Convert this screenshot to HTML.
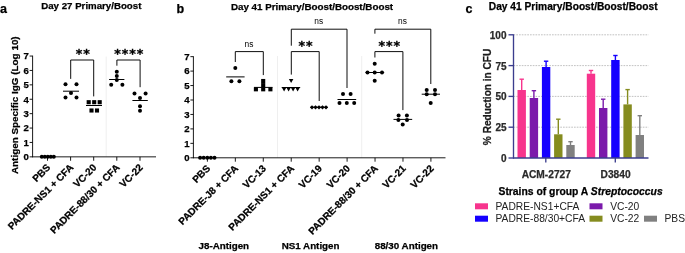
<!DOCTYPE html>
<html lang="en"><head><meta charset="utf-8"><title>Figure</title>
<style>
html,body{margin:0;padding:0;background:#fff;}
svg{display:block;font-family:"Liberation Sans", Arial, sans-serif;}
</style></head>
<body>
<svg width="685" height="253" viewBox="0 0 685 253" shape-rendering="auto">
<rect width="685" height="253" fill="#fff"/>
<text x="0.1" y="12.8" font-size="12.5" font-weight="bold" text-anchor="start" fill="#000"  stroke="#000" stroke-width="0.25">a</text>
<text x="91.3" y="9.4" font-size="9.7" font-weight="bold" text-anchor="middle" fill="#000"  stroke="#000" stroke-width="0.25">Day 27 Primary/Boost</text>
<line x1="106.2" y1="56.5" x2="106.2" y2="156.6" stroke="#ebebeb" stroke-width="0.8" />
<line x1="32.6" y1="55.65" x2="32.6" y2="157.25" stroke="#000" stroke-width="0.9" />
<line x1="32.2" y1="156.85" x2="156" y2="156.85" stroke="#000" stroke-width="0.9" />
<line x1="29.6" y1="156.85" x2="32.6" y2="156.85" stroke="#000" stroke-width="0.9" />
<text x="28.900000000000002" y="160.15" font-size="9.6" font-weight="bold" text-anchor="end" fill="#000"  stroke="#000" stroke-width="0.25">0</text>
<line x1="29.6" y1="142.45" x2="32.6" y2="142.45" stroke="#000" stroke-width="0.9" />
<text x="28.900000000000002" y="145.75" font-size="9.6" font-weight="bold" text-anchor="end" fill="#000"  stroke="#000" stroke-width="0.25">1</text>
<line x1="29.6" y1="128.05" x2="32.6" y2="128.05" stroke="#000" stroke-width="0.9" />
<text x="28.900000000000002" y="131.35000000000002" font-size="9.6" font-weight="bold" text-anchor="end" fill="#000"  stroke="#000" stroke-width="0.25">2</text>
<line x1="29.6" y1="113.65" x2="32.6" y2="113.65" stroke="#000" stroke-width="0.9" />
<text x="28.900000000000002" y="116.95" font-size="9.6" font-weight="bold" text-anchor="end" fill="#000"  stroke="#000" stroke-width="0.25">3</text>
<line x1="29.6" y1="99.25" x2="32.6" y2="99.25" stroke="#000" stroke-width="0.9" />
<text x="28.900000000000002" y="102.55" font-size="9.6" font-weight="bold" text-anchor="end" fill="#000"  stroke="#000" stroke-width="0.25">4</text>
<line x1="29.6" y1="84.85" x2="32.6" y2="84.85" stroke="#000" stroke-width="0.9" />
<text x="28.900000000000002" y="88.14999999999999" font-size="9.6" font-weight="bold" text-anchor="end" fill="#000"  stroke="#000" stroke-width="0.25">5</text>
<line x1="29.6" y1="70.45" x2="32.6" y2="70.45" stroke="#000" stroke-width="0.9" />
<text x="28.900000000000002" y="73.75" font-size="9.6" font-weight="bold" text-anchor="end" fill="#000"  stroke="#000" stroke-width="0.25">6</text>
<line x1="29.6" y1="56.05" x2="32.6" y2="56.05" stroke="#000" stroke-width="0.9" />
<text x="28.900000000000002" y="59.349999999999994" font-size="9.6" font-weight="bold" text-anchor="end" fill="#000"  stroke="#000" stroke-width="0.25">7</text>
<line x1="47.5" y1="156.85" x2="47.5" y2="160.75" stroke="#000" stroke-width="0.9" />
<text x="51.0" y="168.15" font-size="9.95" font-weight="bold" text-anchor="end" fill="#000" transform="rotate(-45 51.0 168.15)"  stroke="#000" stroke-width="0.25">PBS</text>
<line x1="70.6" y1="156.85" x2="70.6" y2="160.75" stroke="#000" stroke-width="0.9" />
<text x="74.1" y="168.15" font-size="9.95" font-weight="bold" text-anchor="end" fill="#000" transform="rotate(-45 74.1 168.15)"  stroke="#000" stroke-width="0.25">PADRE-NS1 + CFA</text>
<line x1="93.7" y1="156.85" x2="93.7" y2="160.75" stroke="#000" stroke-width="0.9" />
<text x="97.2" y="168.15" font-size="9.95" font-weight="bold" text-anchor="end" fill="#000" transform="rotate(-45 97.2 168.15)"  stroke="#000" stroke-width="0.25">VC-20</text>
<line x1="116.8" y1="156.85" x2="116.8" y2="160.75" stroke="#000" stroke-width="0.9" />
<text x="120.3" y="168.15" font-size="9.95" font-weight="bold" text-anchor="end" fill="#000" transform="rotate(-45 120.3 168.15)"  stroke="#000" stroke-width="0.25">PADRE-88/30 + CFA</text>
<line x1="140" y1="156.85" x2="140" y2="160.75" stroke="#000" stroke-width="0.9" />
<text x="143.5" y="168.15" font-size="9.95" font-weight="bold" text-anchor="end" fill="#000" transform="rotate(-45 143.5 168.15)"  stroke="#000" stroke-width="0.25">VC-22</text>
<text x="18.4" y="105.2" font-size="9.9" font-weight="bold" text-anchor="middle" fill="#000" transform="rotate(-90 18.4 105.2)"  stroke="#000" stroke-width="0.25">Antigen Specific IgG (Log 10)</text>
<circle cx="41.8" cy="156.85" r="2.0"/>
<circle cx="44.8" cy="156.85" r="2.0"/>
<circle cx="47.8" cy="156.85" r="2.0"/>
<circle cx="50.8" cy="156.85" r="2.0"/>
<circle cx="53.8" cy="156.85" r="2.0"/>
<circle cx="65.5" cy="84.2" r="2.0"/>
<circle cx="76.5" cy="84.2" r="2.0"/>
<circle cx="71" cy="93" r="2.0"/>
<circle cx="65.5" cy="97.5" r="2.0"/>
<circle cx="76.5" cy="97.5" r="2.0"/>
<line x1="63" y1="91.2" x2="79" y2="91.2" stroke="#000" stroke-width="1.0" />
<rect x="86.65" y="100.15" width="4.1" height="4.1"/>
<rect x="92.15" y="100.15" width="4.1" height="4.1"/>
<rect x="97.65" y="100.15" width="4.1" height="4.1"/>
<rect x="89.45" y="108.45" width="4.1" height="4.1"/>
<rect x="94.95" y="108.45" width="4.1" height="4.1"/>
<line x1="86" y1="105.5" x2="102" y2="105.5" stroke="#000" stroke-width="1.0" />
<circle cx="116.8" cy="71.8" r="2.0"/>
<circle cx="116.8" cy="75.9" r="2.0"/>
<circle cx="116.8" cy="80.1" r="2.0"/>
<circle cx="111.2" cy="84.8" r="2.0"/>
<circle cx="122.4" cy="84.8" r="2.0"/>
<line x1="109.1" y1="79.5" x2="124.4" y2="79.5" stroke="#000" stroke-width="1.0" />
<circle cx="134.5" cy="93.4" r="2.0"/>
<circle cx="145.6" cy="93.4" r="2.0"/>
<circle cx="140" cy="97.9" r="2.0"/>
<circle cx="140" cy="106.3" r="2.0"/>
<circle cx="140" cy="110.8" r="2.0"/>
<line x1="132.4" y1="100.5" x2="147.8" y2="100.5" stroke="#000" stroke-width="1.0" />
<polyline points="70.7,78.9 70.7,60.0 93.7,60.0 93.7,96.4" fill="none" stroke="#000" stroke-width="0.95"/>
<text x="83.2" y="57.8" font-size="12.6" font-weight="bold" letter-spacing="0.9" text-anchor="middle" stroke="#000" stroke-width="0.35" font-family="'DejaVu Sans', sans-serif">**</text>
<polyline points="116.9,65.7 116.9,60.0 140.1,60.0 140.1,87.2" fill="none" stroke="#000" stroke-width="0.95"/>
<text x="129.2" y="57.8" font-size="12.6" font-weight="bold" letter-spacing="0.9" text-anchor="middle" stroke="#000" stroke-width="0.35" font-family="'DejaVu Sans', sans-serif">****</text>
<text x="176.5" y="13.4" font-size="12.5" font-weight="bold" text-anchor="start" fill="#000"  stroke="#000" stroke-width="0.25">b</text>
<text x="312" y="9.5" font-size="9.8" font-weight="bold" text-anchor="middle" fill="#000"  stroke="#000" stroke-width="0.25">Day 41 Primary/Boost/Boost/Boost</text>
<line x1="277.5" y1="56" x2="277.5" y2="157.8" stroke="#ebebeb" stroke-width="0.8" />
<line x1="361.7" y1="56" x2="361.7" y2="157.8" stroke="#ebebeb" stroke-width="0.8" />
<line x1="193.4" y1="56.25" x2="193.4" y2="158.20000000000002" stroke="#000" stroke-width="0.9" />
<line x1="193.0" y1="157.8" x2="445.5" y2="157.8" stroke="#000" stroke-width="0.9" />
<line x1="190.4" y1="157.8" x2="193.4" y2="157.8" stroke="#000" stroke-width="0.9" />
<text x="189.70000000000002" y="161.10000000000002" font-size="9.6" font-weight="bold" text-anchor="end" fill="#000"  stroke="#000" stroke-width="0.25">0</text>
<line x1="190.4" y1="143.35" x2="193.4" y2="143.35" stroke="#000" stroke-width="0.9" />
<text x="189.70000000000002" y="146.65" font-size="9.6" font-weight="bold" text-anchor="end" fill="#000"  stroke="#000" stroke-width="0.25">1</text>
<line x1="190.4" y1="128.9" x2="193.4" y2="128.9" stroke="#000" stroke-width="0.9" />
<text x="189.70000000000002" y="132.20000000000002" font-size="9.6" font-weight="bold" text-anchor="end" fill="#000"  stroke="#000" stroke-width="0.25">2</text>
<line x1="190.4" y1="114.45" x2="193.4" y2="114.45" stroke="#000" stroke-width="0.9" />
<text x="189.70000000000002" y="117.75" font-size="9.6" font-weight="bold" text-anchor="end" fill="#000"  stroke="#000" stroke-width="0.25">3</text>
<line x1="190.4" y1="100.0" x2="193.4" y2="100.0" stroke="#000" stroke-width="0.9" />
<text x="189.70000000000002" y="103.3" font-size="9.6" font-weight="bold" text-anchor="end" fill="#000"  stroke="#000" stroke-width="0.25">4</text>
<line x1="190.4" y1="85.55" x2="193.4" y2="85.55" stroke="#000" stroke-width="0.9" />
<text x="189.70000000000002" y="88.85" font-size="9.6" font-weight="bold" text-anchor="end" fill="#000"  stroke="#000" stroke-width="0.25">5</text>
<line x1="190.4" y1="71.1" x2="193.4" y2="71.1" stroke="#000" stroke-width="0.9" />
<text x="189.70000000000002" y="74.39999999999999" font-size="9.6" font-weight="bold" text-anchor="end" fill="#000"  stroke="#000" stroke-width="0.25">6</text>
<line x1="190.4" y1="56.65" x2="193.4" y2="56.65" stroke="#000" stroke-width="0.9" />
<text x="189.70000000000002" y="59.949999999999996" font-size="9.6" font-weight="bold" text-anchor="end" fill="#000"  stroke="#000" stroke-width="0.25">7</text>
<line x1="207.4" y1="157.8" x2="207.4" y2="161.70000000000002" stroke="#000" stroke-width="0.9" />
<text x="210.9" y="169.10000000000002" font-size="9.95" font-weight="bold" text-anchor="end" fill="#000" transform="rotate(-45 210.9 169.10000000000002)"  stroke="#000" stroke-width="0.25">PBS</text>
<line x1="235.34" y1="157.8" x2="235.34" y2="161.70000000000002" stroke="#000" stroke-width="0.9" />
<text x="238.84" y="169.10000000000002" font-size="9.95" font-weight="bold" text-anchor="end" fill="#000" transform="rotate(-45 238.84 169.10000000000002)"  stroke="#000" stroke-width="0.25">PADRE-J8 + CFA</text>
<line x1="263.28" y1="157.8" x2="263.28" y2="161.70000000000002" stroke="#000" stroke-width="0.9" />
<text x="266.78" y="169.10000000000002" font-size="9.95" font-weight="bold" text-anchor="end" fill="#000" transform="rotate(-45 266.78 169.10000000000002)"  stroke="#000" stroke-width="0.25">VC-13</text>
<line x1="291.22" y1="157.8" x2="291.22" y2="161.70000000000002" stroke="#000" stroke-width="0.9" />
<text x="294.72" y="169.10000000000002" font-size="9.95" font-weight="bold" text-anchor="end" fill="#000" transform="rotate(-45 294.72 169.10000000000002)"  stroke="#000" stroke-width="0.25">PADRE-NS1 + CFA</text>
<line x1="319.16" y1="157.8" x2="319.16" y2="161.70000000000002" stroke="#000" stroke-width="0.9" />
<text x="322.66" y="169.10000000000002" font-size="9.95" font-weight="bold" text-anchor="end" fill="#000" transform="rotate(-45 322.66 169.10000000000002)"  stroke="#000" stroke-width="0.25">VC-19</text>
<line x1="347.1" y1="157.8" x2="347.1" y2="161.70000000000002" stroke="#000" stroke-width="0.9" />
<text x="350.6" y="169.10000000000002" font-size="9.95" font-weight="bold" text-anchor="end" fill="#000" transform="rotate(-45 350.6 169.10000000000002)"  stroke="#000" stroke-width="0.25">VC-20</text>
<line x1="375.04" y1="157.8" x2="375.04" y2="161.70000000000002" stroke="#000" stroke-width="0.9" />
<text x="378.54" y="169.10000000000002" font-size="9.95" font-weight="bold" text-anchor="end" fill="#000" transform="rotate(-45 378.54 169.10000000000002)"  stroke="#000" stroke-width="0.25">PADRE-88/30 + CFA</text>
<line x1="402.98" y1="157.8" x2="402.98" y2="161.70000000000002" stroke="#000" stroke-width="0.9" />
<text x="406.48" y="169.10000000000002" font-size="9.95" font-weight="bold" text-anchor="end" fill="#000" transform="rotate(-45 406.48 169.10000000000002)"  stroke="#000" stroke-width="0.25">VC-21</text>
<line x1="430.92" y1="157.8" x2="430.92" y2="161.70000000000002" stroke="#000" stroke-width="0.9" />
<text x="434.42" y="169.10000000000002" font-size="9.95" font-weight="bold" text-anchor="end" fill="#000" transform="rotate(-45 434.42 169.10000000000002)"  stroke="#000" stroke-width="0.25">VC-22</text>
<circle cx="200.10000000000002" cy="157.8" r="2.0"/>
<circle cx="203.70000000000002" cy="157.8" r="2.0"/>
<circle cx="207.3" cy="157.8" r="2.0"/>
<circle cx="210.9" cy="157.8" r="2.0"/>
<circle cx="214.5" cy="157.8" r="2.0"/>
<circle cx="235.3" cy="68.1" r="2.0"/>
<circle cx="231.4" cy="81.2" r="2.0"/>
<circle cx="239.4" cy="81.2" r="2.0"/>
<line x1="226.2" y1="76.9" x2="244.6" y2="76.9" stroke="#000" stroke-width="1.0" />
<rect x="261.15" y="78.95" width="4.1" height="4.1"/>
<rect x="261.15" y="83.05" width="4.1" height="4.1"/>
<rect x="253.85" y="87.25" width="4.1" height="4.1"/>
<rect x="261.15" y="87.25" width="4.1" height="4.1"/>
<rect x="268.34999999999997" y="87.25" width="4.1" height="4.1"/>
<line x1="254" y1="87.4" x2="272.5" y2="87.4" stroke="#000" stroke-width="1.0" />
<polygon points="288.85,79.0 293.35,79.0 291.1,83.0"/>
<polygon points="281.85,87.4 286.35,87.4 284.1,91.4"/>
<polygon points="286.35,87.4 290.85,87.4 288.6,91.4"/>
<polygon points="290.85,87.4 295.35,87.4 293.1,91.4"/>
<polygon points="295.35,87.4 299.85,87.4 297.6,91.4"/>
<line x1="281.7" y1="87.5" x2="300.2" y2="87.5" stroke="#000" stroke-width="1.0" />
<polygon points="309.85,107.3 312.0,105.14999999999999 314.15,107.3 312.0,109.45"/>
<polygon points="313.35,107.3 315.5,105.14999999999999 317.65,107.3 315.5,109.45"/>
<polygon points="316.85,107.3 319.0,105.14999999999999 321.15,107.3 319.0,109.45"/>
<polygon points="320.35,107.3 322.5,105.14999999999999 324.65,107.3 322.5,109.45"/>
<polygon points="323.85,107.3 326.0,105.14999999999999 328.15,107.3 326.0,109.45"/>
<line x1="310.5" y1="107.3" x2="327.7" y2="107.3" stroke="#000" stroke-width="1.0" />
<circle cx="343" cy="94.1" r="2.0"/>
<circle cx="350.6" cy="94.1" r="2.0"/>
<circle cx="339.5" cy="102.9" r="2.0"/>
<circle cx="346.8" cy="102.9" r="2.0"/>
<circle cx="354.2" cy="102.9" r="2.0"/>
<line x1="337.5" y1="99.5" x2="356.2" y2="99.5" stroke="#000" stroke-width="1.0" />
<circle cx="374.7" cy="63.7" r="2.0"/>
<circle cx="367.5" cy="72.5" r="2.0"/>
<circle cx="374.7" cy="72.5" r="2.0"/>
<circle cx="382" cy="72.5" r="2.0"/>
<circle cx="374.7" cy="80.7" r="2.0"/>
<line x1="365.5" y1="72.5" x2="384.2" y2="72.5" stroke="#000" stroke-width="1.0" />
<circle cx="398.6" cy="115.6" r="2.0"/>
<circle cx="406.9" cy="115.6" r="2.0"/>
<circle cx="398.4" cy="120.1" r="2.0"/>
<circle cx="407.0" cy="120.1" r="2.0"/>
<circle cx="402.7" cy="124.5" r="2.0"/>
<line x1="393.5" y1="119.4" x2="412.2" y2="119.4" stroke="#000" stroke-width="1.0" />
<circle cx="426.7" cy="90.0" r="2.0"/>
<circle cx="435" cy="90.0" r="2.0"/>
<circle cx="426.7" cy="94.2" r="2.0"/>
<circle cx="435" cy="94.2" r="2.0"/>
<circle cx="430.7" cy="103.0" r="2.0"/>
<line x1="421.7" y1="94.2" x2="440" y2="94.2" stroke="#000" stroke-width="1.0" />
<polyline points="235.3,62.0 235.3,51.6 263.3,51.6 263.3,75.1" fill="none" stroke="#000" stroke-width="0.95"/>
<text x="249" y="47" font-size="8.4" font-weight="normal" text-anchor="middle" fill="#000" >ns</text>
<polyline points="291.3,74.6 291.3,51.6 319.2,51.6 319.2,101" fill="none" stroke="#000" stroke-width="0.95"/>
<text x="306.0" y="50.3" font-size="12.6" font-weight="bold" letter-spacing="0.9" text-anchor="middle" stroke="#000" stroke-width="0.35" font-family="'DejaVu Sans', sans-serif">**</text>
<polyline points="291.3,45.7 291.3,29.2 347.0,29.2 347.0,88.0" fill="none" stroke="#000" stroke-width="0.95"/>
<text x="318.7" y="24" font-size="8.4" font-weight="normal" text-anchor="middle" fill="#000" >ns</text>
<polyline points="374.9,57.5 374.9,51.6 402.9,51.6 402.9,110.1" fill="none" stroke="#000" stroke-width="0.95"/>
<text x="389.7" y="50.3" font-size="12.6" font-weight="bold" letter-spacing="0.9" text-anchor="middle" stroke="#000" stroke-width="0.35" font-family="'DejaVu Sans', sans-serif">***</text>
<polyline points="374.9,33.7 374.9,29.2 430.8,29.2 430.8,84" fill="none" stroke="#000" stroke-width="0.95"/>
<text x="402.5" y="24" font-size="8.4" font-weight="normal" text-anchor="middle" fill="#000" >ns</text>
<text x="223.8" y="248.9" font-size="9.8" font-weight="bold" text-anchor="middle" fill="#000"  stroke="#000" stroke-width="0.25">J8-Antigen</text>
<text x="310.6" y="248.9" font-size="9.8" font-weight="bold" text-anchor="middle" fill="#000"  stroke="#000" stroke-width="0.25">NS1 Antigen</text>
<text x="406.4" y="248.9" font-size="9.8" font-weight="bold" text-anchor="middle" fill="#000"  stroke="#000" stroke-width="0.25">88/30 Antigen</text>
<text x="465.5" y="12.6" font-size="12.5" font-weight="bold" text-anchor="start" fill="#000"  stroke="#000" stroke-width="0.25">c</text>
<text x="573.2" y="9.5" font-size="10.2" font-weight="bold" text-anchor="middle" fill="#000"  stroke="#000" stroke-width="0.25">Day 41 Primary/Boost/Boost/Boost</text>
<line x1="513.5" y1="127.2" x2="648.5" y2="127.2" stroke="#a8a8a8" stroke-width="0.7" stroke-dasharray="1.7 1.05"/>
<line x1="513.5" y1="96.4" x2="648.5" y2="96.4" stroke="#a8a8a8" stroke-width="0.7" stroke-dasharray="1.7 1.05"/>
<line x1="513.5" y1="65.6" x2="648.5" y2="65.6" stroke="#a8a8a8" stroke-width="0.7" stroke-dasharray="1.7 1.05"/>
<line x1="513.5" y1="34.8" x2="648.5" y2="34.8" stroke="#a8a8a8" stroke-width="0.7" stroke-dasharray="1.7 1.05"/>
<rect x="517.5" y="90" width="8.4" height="68" fill="#f7348d"/>
<line x1="521.7" y1="90" x2="521.7" y2="79.2" stroke="#f7348d" stroke-width="1.4" />
<line x1="519.5" y1="79.2" x2="523.9000000000001" y2="79.2" stroke="#f7348d" stroke-width="1.4" />
<rect x="529.7" y="98" width="8.4" height="60" fill="#7b1aab"/>
<line x1="533.9000000000001" y1="98" x2="533.9000000000001" y2="90.7" stroke="#7b1aab" stroke-width="1.4" />
<line x1="531.7" y1="90.7" x2="536.1000000000001" y2="90.7" stroke="#7b1aab" stroke-width="1.4" />
<rect x="541.9" y="67" width="8.4" height="91" fill="#1500ff"/>
<line x1="546.1" y1="67" x2="546.1" y2="61.2" stroke="#1500ff" stroke-width="1.4" />
<line x1="543.9" y1="61.2" x2="548.3000000000001" y2="61.2" stroke="#1500ff" stroke-width="1.4" />
<rect x="554.1" y="134.3" width="8.4" height="23.7" fill="#858c1f"/>
<line x1="558.3000000000001" y1="134.3" x2="558.3000000000001" y2="119.2" stroke="#858c1f" stroke-width="1.4" />
<line x1="556.1" y1="119.2" x2="560.5000000000001" y2="119.2" stroke="#858c1f" stroke-width="1.4" />
<rect x="566.3" y="145" width="8.4" height="13" fill="#808080"/>
<line x1="570.5" y1="145" x2="570.5" y2="141.7" stroke="#808080" stroke-width="1.4" />
<line x1="568.3" y1="141.7" x2="572.7" y2="141.7" stroke="#808080" stroke-width="1.4" />
<rect x="586.8" y="73.7" width="8.4" height="84.3" fill="#f7348d"/>
<line x1="591.0" y1="73.7" x2="591.0" y2="70.5" stroke="#f7348d" stroke-width="1.4" />
<line x1="588.8" y1="70.5" x2="593.2" y2="70.5" stroke="#f7348d" stroke-width="1.4" />
<rect x="599.0" y="108" width="8.4" height="50" fill="#7b1aab"/>
<line x1="603.2" y1="108" x2="603.2" y2="99.2" stroke="#7b1aab" stroke-width="1.4" />
<line x1="601.0" y1="99.2" x2="605.4000000000001" y2="99.2" stroke="#7b1aab" stroke-width="1.4" />
<rect x="611.2" y="60" width="8.4" height="98" fill="#1500ff"/>
<line x1="615.4000000000001" y1="60" x2="615.4000000000001" y2="55.5" stroke="#1500ff" stroke-width="1.4" />
<line x1="613.2" y1="55.5" x2="617.6000000000001" y2="55.5" stroke="#1500ff" stroke-width="1.4" />
<rect x="623.4" y="104.4" width="8.4" height="53.6" fill="#858c1f"/>
<line x1="627.6" y1="104.4" x2="627.6" y2="89.6" stroke="#858c1f" stroke-width="1.4" />
<line x1="625.4" y1="89.6" x2="629.8000000000001" y2="89.6" stroke="#858c1f" stroke-width="1.4" />
<rect x="635.6" y="135" width="8.4" height="23" fill="#808080"/>
<line x1="639.8000000000001" y1="135" x2="639.8000000000001" y2="115.7" stroke="#808080" stroke-width="1.4" />
<line x1="637.6" y1="115.7" x2="642.0000000000001" y2="115.7" stroke="#808080" stroke-width="1.4" />
<line x1="513.5" y1="34.3" x2="513.5" y2="158.5" stroke="#3b3d8e" stroke-width="1.35" />
<line x1="513.0" y1="158" x2="648.5" y2="158" stroke="#3b3d8e" stroke-width="1.35" />
<line x1="508.5" y1="158.0" x2="513.5" y2="158.0" stroke="#3b3d8e" stroke-width="1.35" />
<text x="506.5" y="161.9" font-size="10.0" font-weight="bold" text-anchor="end" fill="#2a2a2a"  stroke="#2a2a2a" stroke-width="0.25">0</text>
<line x1="508.5" y1="127.2" x2="513.5" y2="127.2" stroke="#3b3d8e" stroke-width="1.35" />
<text x="506.5" y="131.1" font-size="10.0" font-weight="bold" text-anchor="end" fill="#2a2a2a"  stroke="#2a2a2a" stroke-width="0.25">25</text>
<line x1="508.5" y1="96.4" x2="513.5" y2="96.4" stroke="#3b3d8e" stroke-width="1.35" />
<text x="506.5" y="100.30000000000001" font-size="10.0" font-weight="bold" text-anchor="end" fill="#2a2a2a"  stroke="#2a2a2a" stroke-width="0.25">50</text>
<line x1="508.5" y1="65.6" x2="513.5" y2="65.6" stroke="#3b3d8e" stroke-width="1.35" />
<text x="506.5" y="69.5" font-size="10.0" font-weight="bold" text-anchor="end" fill="#2a2a2a"  stroke="#2a2a2a" stroke-width="0.25">75</text>
<line x1="508.5" y1="34.8" x2="513.5" y2="34.8" stroke="#3b3d8e" stroke-width="1.35" />
<text x="506.5" y="38.699999999999996" font-size="10.0" font-weight="bold" text-anchor="end" fill="#2a2a2a"  stroke="#2a2a2a" stroke-width="0.25">100</text>
<line x1="545.8" y1="158" x2="545.8" y2="162.5" stroke="#3b3d8e" stroke-width="1.35" />
<line x1="615.3" y1="158" x2="615.3" y2="162.5" stroke="#3b3d8e" stroke-width="1.35" />
<text x="546.3" y="178.2" font-size="10.2" font-weight="bold" text-anchor="middle" fill="#2a2a2a"  stroke="#2a2a2a" stroke-width="0.25">ACM-2727</text>
<text x="615.6" y="178.2" font-size="10.2" font-weight="bold" text-anchor="middle" fill="#2a2a2a"  stroke="#2a2a2a" stroke-width="0.25">D3840</text>
<text x="490.6" y="96.9" font-size="10.1" font-weight="bold" text-anchor="middle" fill="#1a1a1a" transform="rotate(-90 490.6 96.9)"  stroke="#1a1a1a" stroke-width="0.25">% Reduction in CFU</text>
<text x="580.6" y="195.2" font-size="10.35" font-weight="bold" text-anchor="middle" stroke="#000" stroke-width="0.25">Strains of group A <tspan font-style="italic">Streptococcus</tspan></text>
<rect x="475" y="203.3" width="13" height="6" fill="#f7348d"/>
<text x="495.5" y="209.6" font-size="10.25" font-weight="normal" text-anchor="start" fill="#222" >PADRE-NS1+CFA</text>
<rect x="589.5" y="203.3" width="13" height="6" fill="#7b1aab"/>
<text x="610.2" y="209.6" font-size="10.25" font-weight="normal" text-anchor="start" fill="#222" >VC-20</text>
<rect x="475" y="215.7" width="13" height="6" fill="#1500ff"/>
<text x="495.5" y="222" font-size="10.25" font-weight="normal" text-anchor="start" fill="#222" >PADRE-88/30+CFA</text>
<rect x="589.5" y="215.7" width="13" height="6" fill="#858c1f"/>
<text x="610.2" y="222" font-size="10.25" font-weight="normal" text-anchor="start" fill="#222" >VC-22</text>
<rect x="644" y="215.7" width="13" height="6" fill="#808080"/>
<text x="664.5" y="222" font-size="10.25" font-weight="normal" text-anchor="start" fill="#222" >PBS</text>
</svg>
</body></html>
